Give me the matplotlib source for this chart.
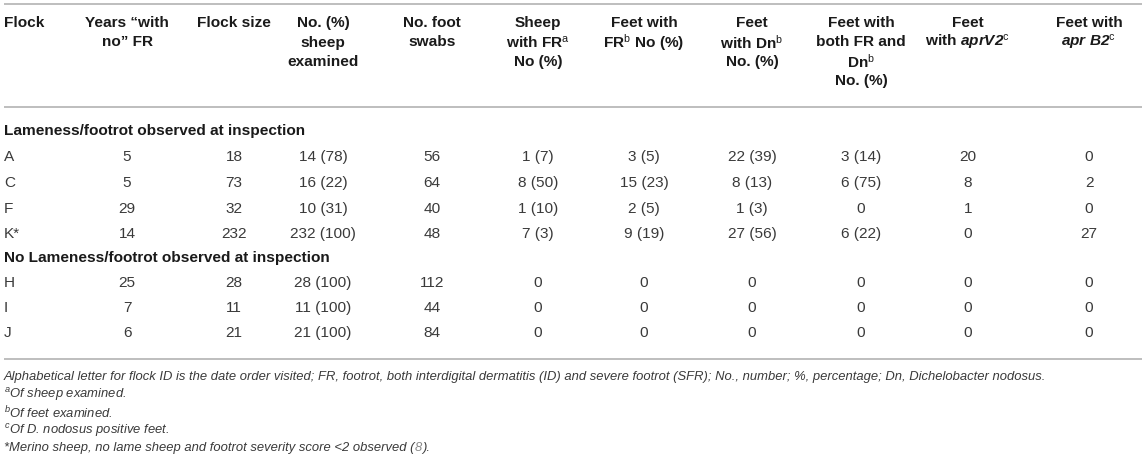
import matplotlib
matplotlib.use("Agg")
import matplotlib.pyplot as plt

plt.rcParams['font.family'] = ['Liberation Sans', 'DejaVu Sans']
plt.rcParams['mathtext.fontset'] = 'custom'
plt.rcParams['mathtext.rm'] = 'Liberation Sans'
plt.rcParams['mathtext.it'] = 'Liberation Sans:italic'
plt.rcParams['mathtext.bf'] = 'Liberation Sans:bold'
plt.rcParams['mathtext.bfit'] = 'Liberation Sans:italic:bold'

# ---- data ----
headers = [
    ["Flock"],
    ["Years \u201cwith", "no\u201d FR"],
    ["Flock size"],
    ["No. (%)", "sheep", "examined"],
    ["No. foot", "swabs"],
    ["Sheep", r"with FR$^{\mathrm{a}}$", "No (%)"],
    ["Feet with", r"FR$^{\mathrm{b}}$ No (%)"],
    ["Feet", r"with Dn$^{\mathrm{b}}$", "No. (%)"],
    ["Feet with", "both FR and", r"Dn$^{\mathrm{b}}$", "No. (%)"],
    ["Feet", r"with $\mathbfit{aprV2}^{\mathrm{c}}$"],
    ["Feet with", r"$\mathbfit{apr\ B2}^{\mathrm{c}}$"],
]
group_titles = ["Lameness/footrot observed at inspection",
                "No Lameness/footrot observed at inspection"]
group_sizes = [4, 3]
flocks = ["A", "C", "F", "K*", "H", "I", "J"]
years = ["5", "5", "29", "14", "25", "7", "6"]
flock_size = ["18", "73", "32", "232", "28", "11", "21"]
sheep_exam = ["14 (78)", "16 (22)", "10 (31)", "232 (100)", "28 (100)", "11 (100)", "21 (100)"]
swabs = ["56", "64", "40", "48", "112", "44", "84"]
sheep_fr = ["1 (7)", "8 (50)", "1 (10)", "7 (3)", "0", "0", "0"]
feet_fr = ["3 (5)", "15 (23)", "2 (5)", "9 (19)", "0", "0", "0"]
feet_dn = ["22 (39)", "8 (13)", "1 (3)", "27 (56)", "0", "0", "0"]
feet_both = ["3 (14)", "6 (75)", "0", "6 (22)", "0", "0", "0"]
apr_v2 = ["20", "8", "1", "0", "0", "0", "0"]
apr_b2 = ["0", "2", "0", "27", "0", "0", "0"]
columns = [flocks, years, flock_size, sheep_exam, swabs, sheep_fr,
           feet_fr, feet_dn, feet_both, apr_v2, apr_b2]

footnotes = [
    "Alphabetical letter for flock ID is the date order visited; FR, footrot, both interdigital "
    "dermatitis (ID) and severe footrot (SFR); No., number; %, percentage; Dn, Dichelobacter nodosus.",
    r"$^{a}$Of sheep examined.",
    r"$^{b}$Of feet examined.",
    r"$^{c}$Of D. nodosus positive feet.",
]
last_note_parts = ["*Merino sheep, no lame sheep and footrot severity score <2 observed (", "8", ")."]

# ---- layout ----
W, H = 1146, 473
fig = plt.figure(figsize=(W / 100, H / 100), dpi=100)
ax = fig.add_axes([0, 0, 1, 1])
ax.set_xlim(0, W)
ax.set_ylim(H, 0)
ax.axis('off')

col_x = [4, 127, 234, 323, 432, 538, 644, 752, 861, 968, 1089]
FS = 11.1
FS_NOTE = 9.4
TXT = '#3a3a3a'
HDR = '#1a1a1a'
LINE = '#b3b3b3'

for yl in [4, 107, 359]:
    ax.plot([4, 1142], [yl, yl], color=LINE, lw=1.2, solid_capstyle='butt')

hdr_y0, hdr_dy = 23, 19.5
for ci, lines in enumerate(headers):
    for li, s in enumerate(lines):
        ax.text(col_x[ci], hdr_y0 + li * hdr_dy, s, fontsize=FS, fontweight='bold',
                color=HDR, ha='left' if ci == 0 else 'center', va='center')

group_y = [131, 258]
row_ys = [[157, 183, 208.5, 234], [283, 308, 333]]
r = 0
for g in range(2):
    ax.text(4, group_y[g], group_titles[g], fontsize=FS, fontweight='bold',
            color=HDR, ha='left', va='center')
    for k in range(group_sizes[g]):
        y = row_ys[g][k]
        for ci, col in enumerate(columns):
            ax.text(col_x[ci], y, col[r], fontsize=FS, color=TXT,
                    ha='left' if ci == 0 else 'center', va='center')
        r += 1

note_y0, note_dy = 377, 17.8
for i, s in enumerate(footnotes):
    ax.text(4, note_y0 + i * note_dy, s, fontsize=FS_NOTE, style='italic',
            color=TXT, ha='left', va='center')

renderer = fig.canvas.get_renderer()
x = 4
yl = note_y0 + 4 * note_dy
colors = [TXT, '#8a8a8a', TXT]
for part, c in zip(last_note_parts, colors):
    t = ax.text(x, yl, part, fontsize=FS_NOTE, style='italic', color=c,
                ha='left', va='center')
    bb = t.get_window_extent(renderer)
    x += bb.width + 0.5

fig.savefig("out.png", dpi=100)
